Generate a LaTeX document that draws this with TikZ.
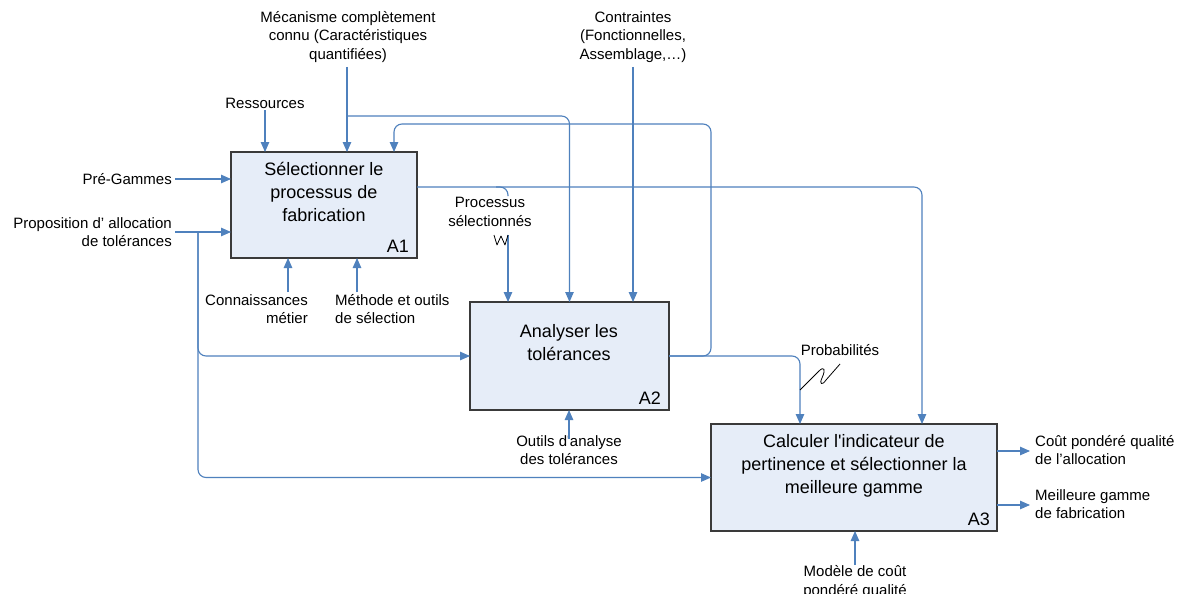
\documentclass[tikz,border=0pt]{standalone}
\usepackage{fontspec}
\setmainfont{Liberation Sans}
\usetikzlibrary{arrows.meta,calc}
\definecolor{lineblue}{HTML}{4F81BD}
\definecolor{boxfill}{HTML}{E6EDF8}
\definecolor{boxdraw}{HTML}{3A3A3A}
\tikzset{
  lbl/.style={inner sep=2pt, font=\fontsize{15}{18.5}\selectfont, text=black},
  proc/.style={draw=boxdraw, fill=boxfill, line width=1.2pt, anchor=north west, inner sep=0pt, outer sep=0pt},
  ptitle/.style={align=center, inner sep=0pt, font=\fontsize{18}{23}\selectfont},
  pid/.style={anchor=south east, inner sep=2pt, font=\fontsize{18}{22}\selectfont},
  conn/.style={draw=lineblue, line width=1.1pt, rounded corners=8pt},
  arr/.style={conn, -{Triangle[length=10pt,width=8.5pt]}},
  squig/.style={draw=black, line width=0.8pt, line join=round}
}
\begin{document}
\begin{tikzpicture}[x=1pt,y=-1pt]
\fill[white] (0,0) rectangle (1184,594);
\useasboundingbox (0,0) rectangle (1184,594);

% activity boxes
\node[proc, minimum width=186pt, minimum height=106pt] (A1) at (231,152) {};
\node[proc, minimum width=199pt, minimum height=108pt] (A2) at (470,302) {};
\node[proc, minimum width=286pt, minimum height=107pt] (A3) at (711,424) {};

\node[ptitle] (A1t) at (324,192) {Sélectionner le\\processus de\\fabrication};
\node[ptitle] (A2t) at (569,343) {Analyser les\\tolérances};
\node[ptitle] (A3t) at (854,466) {Calculer l\textquotesingle indicateur de\\pertinence et sélectionner la\\meilleure gamme};

\node[pid] (A1id) at ([xshift=-6pt,yshift=3pt]A1.south east) {A1};
\node[pid] (A2id) at ([xshift=-6pt,yshift=3pt]A2.south east) {A2};
\node[pid] (A3id) at ([xshift=-5pt,yshift=3pt]A3.south east) {A3};

% labels
\node[lbl, align=center] (meca) at (348,37) {Mécanisme complètement\\connu (Caractéristiques\\quantifiées)};
\node[lbl, align=center] (cont) at (633,37) {Contraintes\\(Fonctionnelles,\\Assemblage,…)};
\node[lbl] (res) at (265,103) {Ressources};
\node[lbl, anchor=east] (pre) at (174,179) {Pré-Gammes};
\node[lbl, anchor=east, align=right] (prop) at (174,232) {Proposition d’ allocation\\de tolérances};
\node[lbl, anchor=east, align=right] (conm) at (310,309) {Connaissances\\métier};
\node[lbl, anchor=west, align=left] (meth) at (333,309) {Méthode et outils\\de sélection};
\node[lbl, align=center] (psel) at (490,212) {Processus\\sélectionnés};
\node[lbl] (prob) at (840,350) {Probabilités};
\node[lbl, align=center] (outa) at (569,450) {Outils d\textquotesingle analyse\\des tolérances};
\node[lbl, align=center] (mod) at (855,582) {Modèle de coût\\pondéré qualité};
\node[lbl, anchor=west, align=left] (cout) at (1033,450) {Coût pondéré qualité\\de l’allocation};
\node[lbl, anchor=west, align=left] (meil) at (1033,504) {Meilleure gamme\\de fabrication};

% helper coordinates
\coordinate (mtop) at (347,67);
\coordinate (mj) at (347,116);
\coordinate (ctop) at (633,67);
\coordinate (pj) at (198,232);
\coordinate (cm) at (288,292);
\coordinate (mo) at (357,292);
\coordinate (oa) at (569,439);
\coordinate (ma) at (855,565);
\coordinate (o1) at (922,187);
\coordinate (pa) at (496,187);
\coordinate (pb) at (508,196);
\coordinate (pc) at (508,235);
\coordinate (fb1) at (711,356);
\coordinate (fb2) at (711,124);
\coordinate (fb3) at (394,124);
\coordinate (pr1) at (800,356);
\coordinate (c1) at (1030,451);
\coordinate (c2) at (1030,505);

% controls (top)
\draw[arr] (res.south) -- (res.south |- A1.north);
\draw[arr] (mtop) -- (mtop |- A1.north);
\draw[arr] (mj) -- (mj -| A2.north) -- (A2.north);
\draw[arr] (ctop) -- (ctop |- A2.north);

% inputs (left)
\draw[arr] ([xshift=1pt]pre.east) -- (A1.west |- pre.east);
\draw[arr] ([xshift=1pt]prop.east) -- (A1.west |- prop.east);
\draw[arr] (pj) -- (pj |- A2.west) -- (A2.west);
\draw[arr] (pj) -- (pj |- A3.west) -- (A3.west);

% mechanisms (bottom)
\draw[arr] (cm) -- (cm |- A1.south);
\draw[arr] (mo) -- (mo |- A1.south);
\draw[arr] (oa) -- (oa |- A2.south);
\draw[arr] (ma) -- (ma |- A3.south);

% outputs
\draw[arr] ([yshift=18pt]A1.east) -- (o1) -- (o1 |- A3.north);
\draw[conn] (pa) -- (pa -| pb) -- (pb);
\draw[arr] (pc) -- (pc |- A2.north);
\draw[arr] (A2.east) -- (fb1) -- (fb2) -- (fb3) -- (fb3 |- A1.north);
\draw[arr] (A2.east) -- (pr1) -- (pr1 |- A3.north);
\draw[arr] (A3.east |- c1) -- (c1);
\draw[arr] (A3.east |- c2) -- (c2);

% squiggles
\draw[squig] (494,235) -- (497,245) -- (501,236) -- (505,245) -- (pc);
\draw[squig] (800,390) -- (819,371) .. controls (824,366) and (826,369) .. (822,378) .. controls (819,384) and (822,386) .. (826,380) -- (840,364);
\end{tikzpicture}
\end{document}
